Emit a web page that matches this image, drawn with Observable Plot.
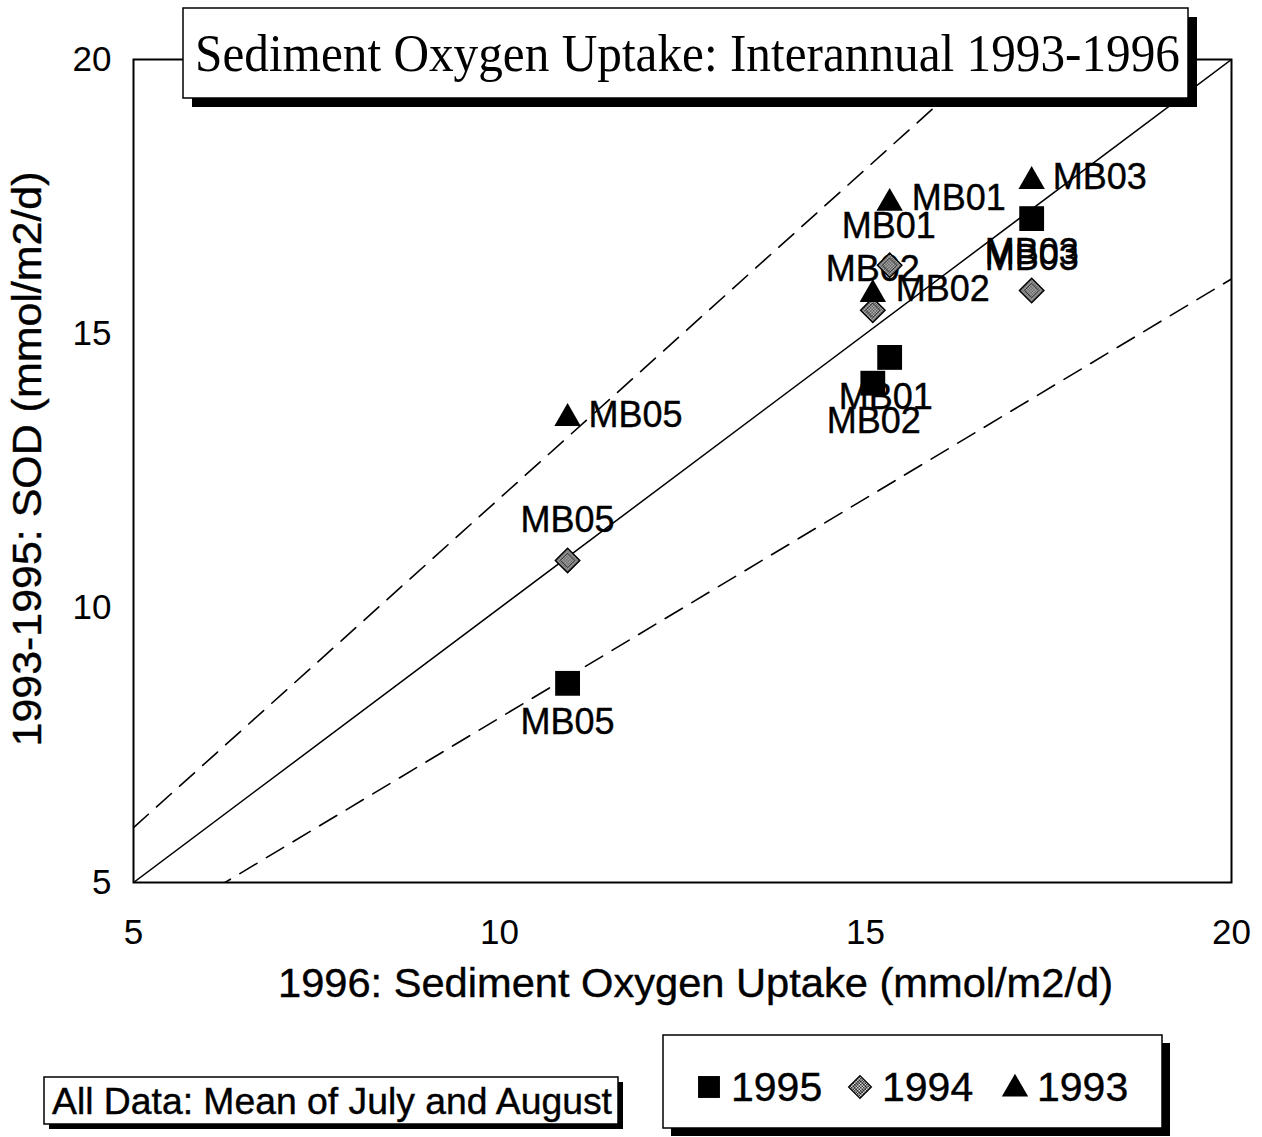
<!DOCTYPE html>
<html><head><meta charset="utf-8">
<script src="https://cdn.jsdelivr.net/npm/d3@7"></script>
<script src="https://cdn.jsdelivr.net/npm/@observablehq/plot@0.6"></script>
<style>
html,body{margin:0;padding:0;background:#fff;}
#wrap{position:relative;width:1262px;height:1137px;overflow:hidden;background:#fff;}
#chart{position:absolute;left:0;top:0;}
#overlay{position:absolute;left:0;top:0;}
</style></head><body>
<div id="wrap">
  <div id="chart"></div>
  <svg id="overlay" width="1262" height="1137"></svg>
</div>
<script>
// ---- data ----
const stations = ["MB05", "MB01", "MB02", "MB03"];
const sod1996 = [10.93, 15.33, 15.10, 17.27];
const sod1995 = [8.63, 14.57, 14.10, 17.10];
const sod1994 = [10.87, 16.25, 15.43, 15.79];
const sod1993 = [13.46, 17.38, 15.72, 17.78];
const years = ["1995", "1994", "1993"];
const axisTicks = [5, 10, 15, 20];
const refSlopes = [1, 1.2, 0.8];
const titleText = "Sediment Oxygen Uptake: Interannual 1993-1996";
const xLabel = "1996: Sediment Oxygen Uptake (mmol/m2/d)";
const yLabel = "1993-1995: SOD (mmol/m2/d)";
const noteText = "All Data: Mean of July and August";

// ---- styling (label placement) ----
const labelStyle = {
  "1995": {MB05: [0, 39, "middle"], MB01: [-4, 40, "middle"], MB02: [1, 38, "middle"], MB03: [0, 34, "middle"]},
  "1994": {MB05: [0, -40, "middle"], MB01: [-1, -39, "middle"], MB02: [0, -41, "middle"], MB03: [0, -32, "middle"]},
  "1993": {MB05: [21, -3, "start"], MB01: [22, -5, "start"], MB02: [23, -5, "start"], MB03: [21, -4, "start"]}
};
const SANS = "'Liberation Sans', Arial, Helvetica, sans-serif";
const SERIF = "'Liberation Serif', 'Times New Roman', Times, serif";

// ---- tables ----
const series = {"1995": sod1995, "1994": sod1994, "1993": sod1993};
const rows = [];
years.forEach(yr => stations.forEach((s, i) => rows.push({year: yr, station: s, x: sod1996[i], y: series[yr][i]})));
const refLines = [];
refSlopes.forEach(s => [5, 20].forEach(x => refLines.push({slope: s, x, y: s * x})));

// ---- overlay defs (pattern for 1994 diamonds) ----
const ov = d3.select("#overlay");
const defs = ov.append("defs");
const pat = defs.append("pattern").attr("id", "hatch").attr("patternUnits", "userSpaceOnUse")
  .attr("width", 3).attr("height", 3);
pat.append("rect").attr("width", 3).attr("height", 3).attr("fill", "#d8d8d8");
pat.append("rect").attr("width", 1.5).attr("height", 1.5).attr("fill", "#333");
pat.append("rect").attr("x", 1.5).attr("y", 1.5).attr("width", 1.5).attr("height", 1.5).attr("fill", "#333");

const labelMarks = rows.map(r => {
  const [dx, dy, anchor] = labelStyle[r.year][r.station];
  return Plot.text([r], {x: "x", y: "y", text: "station", dx, dy, textAnchor: anchor,
    fontSize: 36, fontFamily: SANS, fill: "#000", stroke: "#000", strokeWidth: 0.4});
});

const chart = Plot.plot({
  width: 1262, height: 1030,
  marginTop: 59, marginLeft: 133, marginRight: 31, marginBottom: 148,
  x: {domain: [5, 20]},
  y: {domain: [5, 20]},
  style: {fontFamily: SANS, fontSize: "35px", color: "#000", background: "transparent"},
  marks: [
    Plot.line(refLines.filter(d => d.slope === 1), {x: "x", y: "y", z: "slope", stroke: "#000", strokeWidth: 1.5, clip: true}),
    Plot.line(refLines.filter(d => d.slope !== 1), {x: "x", y: "y", z: "slope", stroke: "#000", strokeWidth: 1.6, strokeDasharray: "20,11", clip: true}),
    Plot.frame({stroke: "#000", strokeWidth: 2}),
    Plot.axisX({ticks: axisTicks, tickSize: 0, tickPadding: 37, fontSize: 35, label: null, stroke: "#000", strokeWidth: 0.4}),
    Plot.axisY({ticks: axisTicks, tickSize: 0, tickPadding: 22, fontSize: 35, label: null, stroke: "#000", strokeWidth: 0.4}),
    ...labelMarks,
    Plot.dot(rows.filter(d => d.year === "1995"), {x: "x", y: "y", symbol: "square", r: 14, fill: "#000", stroke: "none"}),
    Plot.dot(rows.filter(d => d.year === "1994"), {x: "x", y: "y", symbol: "diamond2", r: 11, fill: "url(#hatch)", stroke: "#000", strokeWidth: 1.5}),
    Plot.dot(rows.filter(d => d.year === "1994"), {x: "x", y: "y", symbol: "diamond2", r: 6.5, fill: "none", stroke: "#222", strokeWidth: 0.8}),
    Plot.dot(rows.filter(d => d.year === "1993"), {x: "x", y: "y", symbol: "triangle", r: 9.8, fill: "#000", stroke: "none"}),
    Plot.text([xLabel], {text: d => d, frameAnchor: "bottom", dx: 13, dy: 114, textAnchor: "middle", fontSize: 40, fontFamily: SANS, fill: "#000", stroke: "#000", strokeWidth: 0.4}),
    Plot.text([yLabel], {text: d => d, frameAnchor: "left", rotate: -90, dx: -105, dy: -12, textAnchor: "middle", fontSize: 40, fontFamily: SANS, fill: "#000", stroke: "#000", strokeWidth: 0.4})
  ]
});
document.getElementById("chart").appendChild(chart);

// fit long axis labels to reference lengths
chart.querySelectorAll("text").forEach(t => {
  if (t.textContent === xLabel) { t.setAttribute("textLength", 835); t.setAttribute("lengthAdjust", "spacingAndGlyphs"); }
  if (t.textContent === yLabel) { t.setAttribute("textLength", 575); t.setAttribute("lengthAdjust", "spacingAndGlyphs"); }
});

// ---- title box ----
ov.append("rect").attr("x", 192).attr("y", 17).attr("width", 1005).attr("height", 90).attr("fill", "#000");
ov.append("rect").attr("x", 183).attr("y", 8).attr("width", 1005).attr("height", 90).attr("fill", "#fff").attr("stroke", "#000").attr("stroke-width", 1.5);
ov.append("text").attr("x", 195).attr("y", 71).attr("font-family", SERIF).attr("font-size", 52)
  .attr("textLength", 985).attr("lengthAdjust", "spacingAndGlyphs").attr("fill", "#000").text(titleText);

// ---- note box ----
ov.append("rect").attr("x", 49).attr("y", 1082).attr("width", 574).attr("height", 47).attr("fill", "#000");
ov.append("rect").attr("x", 44).attr("y", 1077).attr("width", 574).attr("height", 47).attr("fill", "#fff").attr("stroke", "#000").attr("stroke-width", 1.5);
ov.append("text").attr("x", 52).attr("y", 1114).attr("font-family", SANS).attr("font-size", 36)
  .attr("textLength", 560).attr("lengthAdjust", "spacingAndGlyphs").attr("fill", "#000")
  .attr("stroke", "#000").attr("stroke-width", 0.4).text(noteText);

// ---- legend box ----
ov.append("rect").attr("x", 671).attr("y", 1043).attr("width", 499).attr("height", 93).attr("fill", "#000");
ov.append("rect").attr("x", 663).attr("y", 1035).attr("width", 499).attr("height", 93).attr("fill", "#fff").attr("stroke", "#000").attr("stroke-width", 1.5);
const legendSymbols = {"1995": d3.symbolSquare, "1994": d3.symbolDiamond2, "1993": d3.symbolTriangle};
const legendX = {"1995": 709, "1994": 860, "1993": 1015};
const legendSize = {"1995": 480, "1994": 330, "1993": 300};
years.forEach(yr => {
  const g = ov.append("g").attr("transform", `translate(${legendX[yr]},${yr === "1993" ? 1089 : 1087})`);
  g.append("path").attr("d", d3.symbol(legendSymbols[yr], legendSize[yr])())
    .attr("fill", yr === "1994" ? "url(#hatch)" : "#000")
    .attr("stroke", yr === "1994" ? "#000" : "none").attr("stroke-width", 1.3);
  if (yr === "1994") g.append("path").attr("d", d3.symbol(d3.symbolDiamond2, 110)()).attr("fill", "none").attr("stroke", "#222").attr("stroke-width", 0.8);
  ov.append("text").attr("x", legendX[yr] + 22).attr("y", 1101).attr("font-family", SANS).attr("font-size", 41)
    .attr("fill", "#000").attr("stroke", "#000").attr("stroke-width", 0.4).text(yr);
});
</script>
</body></html>
